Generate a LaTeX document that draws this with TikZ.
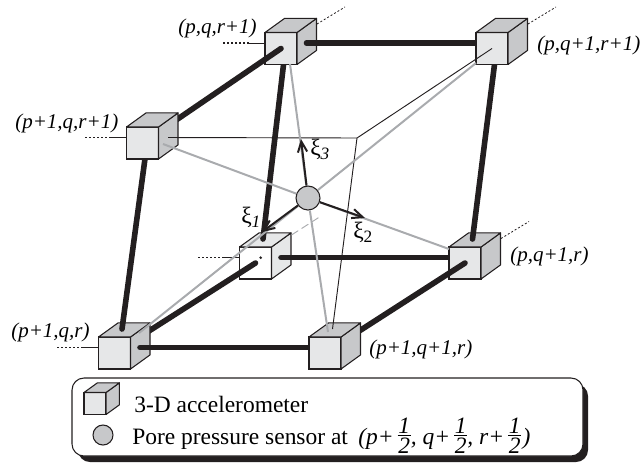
\documentclass[tikz,border=0pt]{standalone}
\usepackage{amsmath}
\usepackage{fontspec}
\setmainfont{Liberation Serif}
\usetikzlibrary{arrows.meta, calc}

\definecolor{inkblack}{HTML}{231F20}
\definecolor{facelight}{HTML}{E6E7E8}
\definecolor{facedark}{HTML}{C7C8CA}
\definecolor{wiregray}{HTML}{A9ABAE}

% cube: front face is a node, the two other faces hang on it
\newcommand{\accel}[2]{%
  \node[frontface, minimum size=#2*0.75pt] (#1f) at (#1) {};
  \draw[backface] (#1f.north east) -- ++({.61*#2},{-.44*#2}) -- ++(0,#2) -- (#1f.south east) -- cycle;
  \draw[backface] (#1f.north west) -- ++({.61*#2},{-.44*#2}) -- ++(#2,0) -- (#1f.north east) -- cycle;
}
\newcommand{\xilab}[1]{ξ\raisebox{-.4ex}{\fontsize{13}{13}\selectfont #1}}
\newcommand{\halfbox}{\raisebox{2.2pt}{$\vcenter{\hbox to 10pt{\hss\itshape 1\hss}\kern1.4pt\hrule\kern1.6pt\hbox to 10pt{\hss\itshape 2\hss}}$}}

\begin{document}
\begin{tikzpicture}[
  x=0.75pt, y=-0.75pt,
  >={Straight Barb[length=8pt,width=7pt]},
  frontface/.style={draw=inkblack, fill=facelight, line width=0.8pt, inner sep=0pt, outer sep=0pt},
  backface/.style={draw=inkblack, fill=facedark, line width=0.8pt, line join=round},
  rod/.style={draw=inkblack, line width=4.2pt, line cap=round},
  wire/.style={draw=wiregray, line width=1.5pt},
  frame/.style={draw=inkblack, line width=0.7pt},
  axis/.style={->, draw=inkblack, line width=1.5pt},
  lead/.style={draw=inkblack, line width=0.7pt},
  leaddots/.style={draw=inkblack, line width=0.8pt, dash pattern=on 1.5pt off 1.5pt},
  tag/.style={anchor=base west, inner sep=0pt, font=\fontsize{15.75}{18}\selectfont\itshape},
  legendtext/.style={anchor=base west, inner sep=0pt, font=\fontsize{17.6}{20}\selectfont},
  sensor/.style={circle, draw=inkblack, fill=facedark, line width=0.8pt, inner sep=0pt, minimum size=#1*0.75pt}
]
\useasboundingbox (0,0) rectangle (641,462);

% --- Cube positions ---
\foreach \n/\x/\y in {pqr1/281/48.5, p1qr1/142.5/143, pq1r1/492/48.5, pqr/255.5/263,
                      p1qr/114.5/353, pq1r/465/263, p1q1r/325/353} {
  \coordinate (\n) at (\x,\y);
  \coordinate (\n-top) at (\x+7.5,\y-24);
  \coordinate (\n-side) at (\x+25.5,\y-5.5);
  \coordinate (\n-low) at (\x+3,\y+12);
}

% --- Cubes and rods, back to front ---
\begin{scope}[frontface/.append style={fill=white}, backface/.append style={fill=facelight}]
  \accel{pqr}{32}
\end{scope}
\draw[rod] (pqr1-low) -- (pqr-top);
\accel{pqr1}{32}
\draw[rod] (pqr1) -- (p1qr1);
\draw[rod] (pqr1-side) -- (pq1r1-side);
\draw[rod] (pqr) -- (p1qr);
\draw[rod] (pqr-side) -- (pq1r-side);
\accel{p1qr}{32}
\draw[rod] (p1qr1-low) -- (p1qr-top);
\accel{p1qr1}{32}
\draw[rod] (p1qr-side) -- (p1q1r-side);
\accel{pq1r}{32}
\draw[rod] (pq1r1-low) -- (pq1r-top);
\accel{pq1r1}{32}
\draw[rod] (pq1r) -- (p1q1r);
\accel{p1q1r}{32}

% --- Leads ---
\foreach \n in {pqr1, p1qr1, pqr, p1qr} {
  \draw[lead] ($(\n)+(-16,-5.5)$) -- ++(-16,0);
  \draw[leaddots] ($(\n)+(-32,-5.5)$) -- ++(-26,0);
}
\foreach \n in {pqr1, pq1r1, pq1r} {
  \draw[leaddots, line width=0.6pt] ($(\n)+(36,-24.5)$) -- ++(28,-17);
}
\draw[wire, line width=0.7pt, dash pattern=on 6pt off 3pt] ($(pqr)+(36,-28)$) -- ++(28,-18);

% --- Inner frame ---
\coordinate (corner) at (357,138);
\draw[frame] (p1qr1-side) -- (corner) -- (pq1r1);
\draw[frame] (corner) -- (p1q1r-top);

% --- Sensor and wires ---
\node[sensor=24] (pore) at (308,198) {};
\coordinate (wC) at (290,64);
\coordinate (wD) at (163,144);
\coordinate (wE) at (476,63);
\coordinate (wG) at (139,333);
\coordinate (wH) at (449,249);
\coordinate (wI) at (328,332);
\foreach \w in {wC, wD, wE, wG, wH, wI} {
  \draw[wire] (pore) -- (\w);
}

% --- Axes ---
\coordinate (xi1) at (262,232);
\coordinate (xi2) at (365,218);
\coordinate (xi3) at (301,139);
\draw[axis] (pore) -- (xi1);
\draw[axis] (pore) -- (xi2);
\draw[axis] (pore) -- (xi3);
\node[fill=inkblack, circle, inner sep=0pt, minimum size=2.2pt] (dot) at (260.7,257.7) {};
\node[legendtext] (lab1) at (241,223) {\xilab{\itshape 1}};
\node[legendtext] (lab2) at (353,238) {\xilab{2}};
\node[legendtext] (lab3) at (310,155) {\xilab{\itshape 3}};

% --- Position labels ---
\node[tag] (tpqr1)  at (178,33)  {(p,q,r+1)};
\node[tag] (tp1qr1) at (15,128)  {(p+1,q,r+1)};
\node[tag] (tpq1r1) at (537,50)  {(p,q+1,r+1)};
\node[tag] (tp1qr)  at (11,337)  {(p+1,q,r)};
\node[tag] (tp1q1r) at (369,354) {(p+1,q+1,r)};
\node[tag] (tpq1r)  at (510,261) {(p,q+1,r)};

% --- Legend ---
\fill[inkblack, rounded corners=12*0.75pt] (78,384) rectangle (588,462);
\draw[draw=inkblack, fill=white, line width=0.8pt, rounded corners=12*0.75pt] (72,378) rectangle (583,456);
\coordinate (legcube) at (95,403.5);
\accel{legcube}{22}
\node[sensor=20] (legpore) at (103,435) {};
\node[legendtext] (legA) at (134,412) {3-D accelerometer};
\node[legendtext] (legB) at (132,444) {Pore pressure sensor at};
\node[legendtext] (legC) at (358,444) {\itshape (p+\,\halfbox, q+\,\halfbox, r+\,\halfbox\kern1pt)};

\end{tikzpicture}
\end{document}
